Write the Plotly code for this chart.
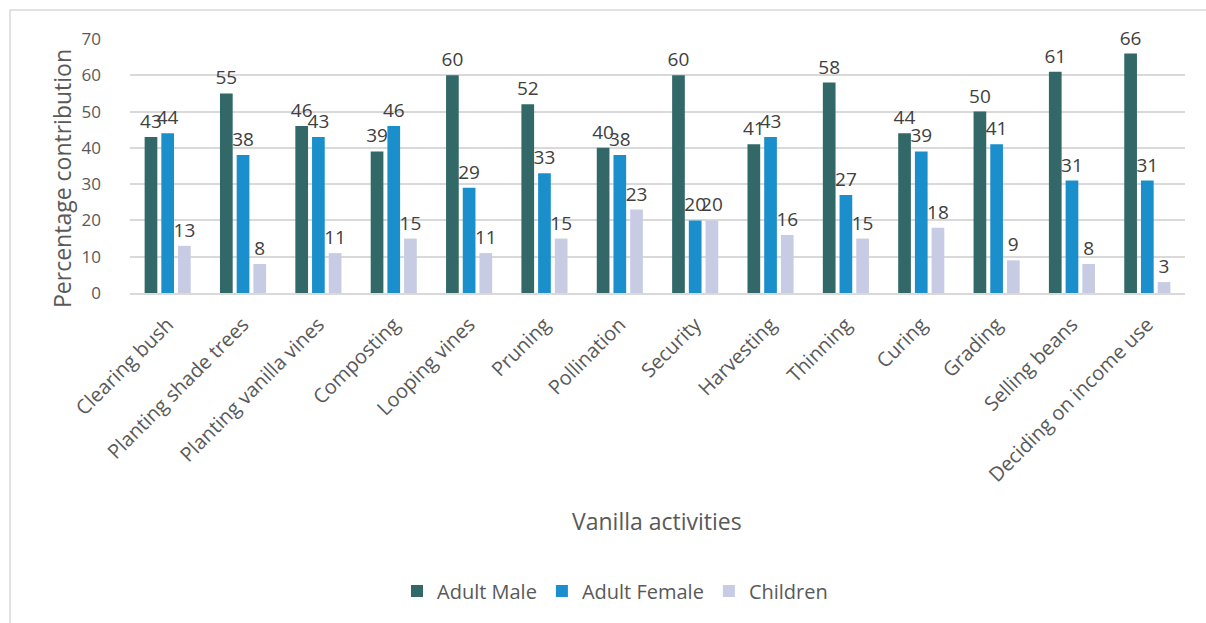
import plotly.graph_objects as go

activities = [
    "Clearing bush", "Planting shade trees", "Planting vanilla vines", "Composting",
    "Looping vines", "Pruning", "Pollination", "Security", "Harvesting", "Thinning",
    "Curing", "Grading", "Selling beans", "Deciding on income use",
]
adult_male = [43, 55, 46, 39, 60, 52, 40, 60, 41, 58, 44, 50, 61, 66]
adult_female = [44, 38, 43, 46, 29, 33, 38, 20, 43, 27, 39, 41, 31, 31]
children = [13, 8, 11, 15, 11, 15, 23, 20, 16, 15, 18, 9, 8, 3]
y_ticks = [0, 10, 20, 30, 40, 50, 60, 70]

series = [
    ("Adult Male", adult_male, "#326868"),
    ("Adult Female", adult_female, "#1A8FCB"),
    ("Children", children, "#C7CCE4"),
]

FONT = "Open Sans"
TEXT_COLOR = "#595959"

fig = go.Figure()
for name, vals, color in series:
    fig.add_trace(go.Bar(
        name=name, x=activities, y=vals,
        marker=dict(color=color, line=dict(width=0)),
        text=[str(v) for v in vals], textposition="outside",
        constraintext="none",
        textfont=dict(family=FONT, size=19, color="#404040"),
        cliponaxis=False,
    ))

# plot area spans x 130..1185, y 39..293 px
L, R, T, B = 130, 21, 39, 330
W, H = 1206, 623
pw = W - L - R
ph = H - T - B

def px_x(x):
    return (x - L) / pw

def px_y(y):
    return (H - B - y) / ph

fig.update_layout(
    width=W, height=H,
    margin=dict(l=L, r=R, t=T, b=B, autoexpand=False),
    paper_bgcolor="white", plot_bgcolor="white",
    barmode="group", bargap=0.335, bargroupgap=0.24,
    font=dict(family=FONT, color=TEXT_COLOR),
    showlegend=True,
    legend=dict(
        orientation="h", x=px_x(615), xanchor="center", y=px_y(591), yanchor="middle",
        font=dict(family=FONT, size=20, color=TEXT_COLOR),
        itemwidth=30, tracegroupgap=0,
    ),
    xaxis=dict(
        tickangle=-45, tickfont=dict(family=FONT, size=20, color=TEXT_COLOR),
        showline=True, linecolor="#D9D9D9", linewidth=2, ticks="",
        showgrid=False, automargin=False, ticklabelstandoff=10,
    ),
    yaxis=dict(
        range=[0, 70], tickvals=y_ticks,
        tickfont=dict(family=FONT, size=17, color=TEXT_COLOR),
        showgrid=True, gridcolor="#D9D9D9", gridwidth=1.5,
        zeroline=False, showline=False, ticks="", automargin=False,
        ticklabelstandoff=28,
    ),
    annotations=[
        dict(text="Percentage contribution", xref="paper", yref="paper",
             x=px_x(62), y=px_y(179), textangle=-90, showarrow=False,
             xanchor="center", yanchor="middle",
             font=dict(family=FONT, size=23, color=TEXT_COLOR)),
        dict(text="Vanilla activities", xref="paper", yref="paper",
             x=px_x(657), y=px_y(521), showarrow=False,
             xanchor="center", yanchor="middle",
             font=dict(family=FONT, size=23, color=TEXT_COLOR)),
    ],
    shapes=[
        dict(type="rect", xref="paper", yref="paper",
             x0=px_x(10), x1=px_x(1215), y0=px_y(10), y1=px_y(640),
             line=dict(color="#D9D9D9", width=1.5), fillcolor="rgba(0,0,0,0)",
             layer="below"),
    ],
)

fig.write_html("out.html")
